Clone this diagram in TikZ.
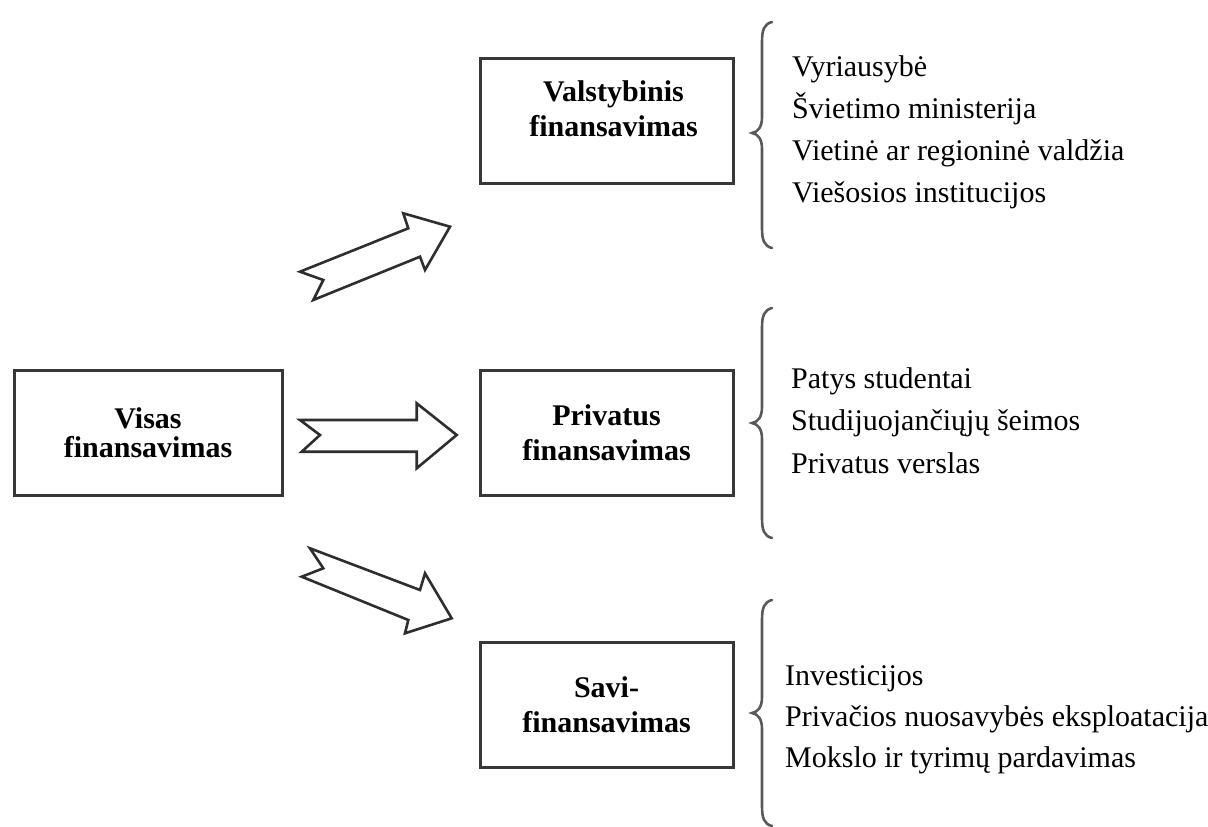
\documentclass[tikz,border=0pt]{standalone}
\usepackage{fontspec}
\setmainfont{Liberation Serif}
\newcommand{\finbrace}[3]{%
  \draw[bracestyle] (772,#1) .. controls (764,{#1+2}) and (762,{#1+8}) .. (762,{#1+20})
    -- (762,{#2-16}) .. controls (762,{#2-6}) and (758,{#2-1}) .. (752,#2)
    .. controls (758,{#2+1}) and (762,{#2+6}) .. (762,{#2+16})
    -- (762,{#3-20}) .. controls (762,{#3-8}) and (764,{#3-2}) .. (772,#3);}
\begin{document}
\begin{tikzpicture}[x=1pt,y=-1pt,
  box/.style={draw=black!78, line width=3pt, rectangle, minimum width=253pt, minimum height=125pt,
    align=center, inner sep=0pt, font=\fontsize{30}{35}\selectfont\bfseries},
  bigarrow/.style={draw=black!82, line width=2.6pt, fill=white, line join=miter},
  bracestyle/.style={draw=black!65, line width=2.6pt, line cap=round},
  item/.style={anchor=base west, inner sep=0pt, font=\fontsize{30}{36}\selectfont}]
\useasboundingbox (0,0) rectangle (1208,827);
\fill[white] (0,0) rectangle (1208,827);

% boxes
\node[box, minimum width=268pt, font=\fontsize{30}{29}\selectfont\bfseries] (visas) at (148,433) {Visas\\finansavimas};
\node[box] (valst) at (606.5,120.8) {\hspace*{14pt}Valstybinis\\\hspace*{14pt}finansavimas\\[-10pt]};
\node[box] (priv) at (606.5,432.8) {Privatus\\finansavimas};
\node[box] (savi) at (606.5,705) {Savi-\\finansavimas};

% block arrows
\draw[bigarrow] (300,271.7) -- (408.3,228.3) -- (403.3,213.3) -- (450,226.7) -- (425,270)
  -- (420,256.7) -- (313.3,300) -- (323.3,280) -- cycle;
\draw[bigarrow] (300,420) -- (416.7,420) -- (416.7,403.3) -- (456.7,435) -- (416.7,468.3)
  -- (416.7,451.7) -- (301.7,451.7) -- (320,435) -- cycle;
\draw[bigarrow] (310,548.3) -- (420,590) -- (425,573.3) -- (451.7,618.3) -- (405,633.3)
  -- (408.3,620) -- (301.7,576.7) -- (323.3,568.3) -- cycle;

% braces
\finbrace{22}{133}{248}
\finbrace{308}{423}{538}
\finbrace{600}{713}{826}

% lists
\node[item] (v1) at (792,76) {Vyriausybė};
\node[item] (v2) at (792,118) {Švietimo ministerija};
\node[item] (v3) at (792,160) {Vietinė ar regioninė valdžia};
\node[item] (v4) at (792,202) {Viešosios institucijos};

\node[item] (p1) at (791,388) {Patys studentai};
\node[item] (p2) at (791,430.5) {Studijuojančiųjų šeimos};
\node[item] (p3) at (791,473) {Privatus verslas};

\node[item] (s1) at (785,685) {Investicijos};
\node[item] (s2) at (785,726) {Privačios nuosavybės eksploatacija};
\node[item] (s3) at (785,767) {Mokslo ir tyrimų pardavimas};
\end{tikzpicture}
\end{document}
